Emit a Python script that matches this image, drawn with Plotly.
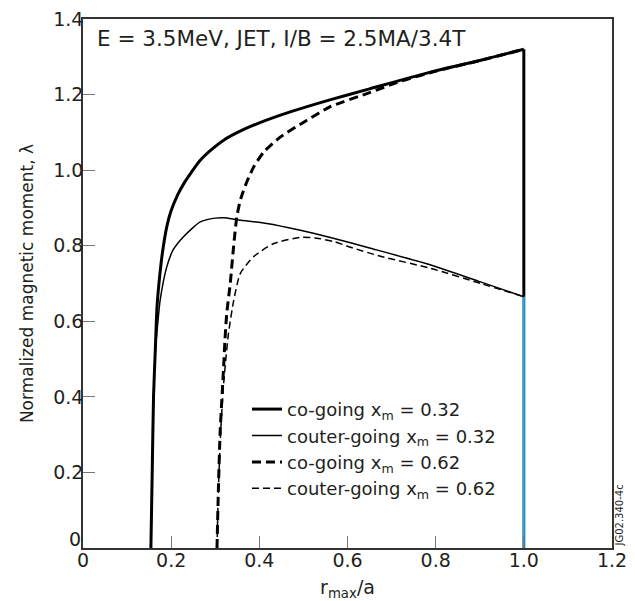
import plotly.graph_objects as go

# co-going x_m = 0.32 (thick solid)
co32_x = [0.154, 0.157, 0.160, 0.164, 0.168, 0.174, 0.180, 0.190, 0.200, 0.215, 0.230, 0.245, 0.265, 0.290, 0.320, 0.360, 0.400, 0.470, 0.560, 0.650, 0.790, 0.900, 1.000]
co32_y = [0.0, 0.2, 0.4, 0.524, 0.64, 0.72, 0.78, 0.85, 0.893, 0.935, 0.967, 0.993, 1.025, 1.053, 1.08, 1.105, 1.125, 1.154, 1.186, 1.215, 1.26, 1.29, 1.32]

# counter-going x_m = 0.32 (thin solid)
ct32_x = [0.154, 0.157, 0.160, 0.164, 0.170, 0.175, 0.190, 0.205, 0.228, 0.266, 0.300, 0.320, 0.350, 0.417, 0.493, 0.561, 0.650, 0.789, 0.900, 1.000]
ct32_y = [0.0, 0.2, 0.4, 0.52, 0.6, 0.656, 0.744, 0.79, 0.824, 0.863, 0.873, 0.874, 0.869, 0.859, 0.841, 0.822, 0.794, 0.749, 0.705, 0.665]

# co-going x_m = 0.62 (thick dashed)
co62_x = [0.304, 0.307, 0.311, 0.319, 0.322, 0.326, 0.334, 0.341, 0.349, 0.358, 0.372, 0.387, 0.410, 0.448, 0.508, 0.561, 0.650, 0.720, 0.810, 0.900, 1.000]
co62_y = [0.0, 0.15, 0.304, 0.48, 0.55, 0.62, 0.70, 0.79, 0.877, 0.925, 0.97, 1.008, 1.048, 1.088, 1.132, 1.168, 1.205, 1.235, 1.265, 1.29, 1.32]

# counter-going x_m = 0.62 (thin dashed)
ct62_x = [0.304, 0.307, 0.312, 0.318, 0.324, 0.330, 0.342, 0.357, 0.387, 0.433, 0.493, 0.530, 0.569, 0.607, 0.675, 0.789, 0.902, 1.000]
ct62_y = [0.0, 0.15, 0.30, 0.42, 0.50, 0.568, 0.656, 0.727, 0.771, 0.806, 0.822, 0.82, 0.811, 0.796, 0.772, 0.74, 0.70, 0.665]

# boundary at r_max/a = 1
drop_x = [1.0, 1.0]
drop_y = [1.32, 0.665]
edge_x = [1.0, 1.0]
edge_y = [0.0, 0.665]

x_ticks = [0, 0.2, 0.4, 0.6, 0.8, 1.0, 1.2]
x_ticktext = ["0", "0.2", "0.4", "0.6", "0.8", "1.0", "1.2"]
y_ticks = [0, 0.2, 0.4, 0.6, 0.8, 1.0, 1.2, 1.4]
y_ticktext = ["", "0.2", "0.4", "0.6", "0.8", "1.0", "1.2", "1.4"]
y_zero_label = "0"

FONT = "DejaVu Sans, Liberation Sans, Arial, sans-serif"
TXT = "#231f20"

fig = go.Figure()
fig.add_trace(go.Scatter(x=edge_x, y=edge_y, mode="lines", line=dict(color="#1b6fa8", width=3), showlegend=False, hoverinfo="skip"))
fig.add_trace(go.Scatter(x=edge_x, y=edge_y, mode="lines", line=dict(color="#38b8e8", width=1.2), showlegend=False, hoverinfo="skip"))
fig.add_trace(go.Scatter(x=drop_x, y=drop_y, mode="lines", line=dict(color="black", width=3), showlegend=False, hoverinfo="skip"))
fig.add_trace(go.Scatter(x=co32_x, y=co32_y, mode="lines", name="co-going x<sub>m</sub> = 0.32",
                         line=dict(color="black", width=3, shape="spline", smoothing=0.6)))
fig.add_trace(go.Scatter(x=ct32_x, y=ct32_y, mode="lines", name="couter-going x<sub>m</sub> = 0.32",
                         line=dict(color="black", width=1.5, shape="spline", smoothing=0.6)))
fig.add_trace(go.Scatter(x=co62_x, y=co62_y, mode="lines", name="co-going x<sub>m</sub> = 0.62",
                         line=dict(color="black", width=3, dash="9px,5px", shape="spline", smoothing=0.6)))
fig.add_trace(go.Scatter(x=ct62_x, y=ct62_y, mode="lines", name="couter-going x<sub>m</sub> = 0.62",
                         line=dict(color="black", width=1.5, dash="7px,4px", shape="spline", smoothing=0.6)))

fig.update_layout(
    width=635, height=601,
    margin=dict(l=83, r=23, t=19, b=53, autoexpand=False),
    paper_bgcolor="white", plot_bgcolor="white",
    font=dict(family=FONT, size=19, color=TXT),
    legend=dict(x=0.31, y=0.297, xanchor="left", yanchor="top",
                bgcolor="rgba(0,0,0,0)", font=dict(size=18, color=TXT),
                tracegroupgap=0, itemwidth=30),
    annotations=[
        dict(text="E = 3.5MeV, JET, I/B = 2.5MA/3.4T", xref="paper", yref="paper",
             x=0.022, y=0.963, xanchor="left", yanchor="middle", showarrow=False,
             font=dict(size=21.5, color=TXT)),
        dict(text="JG02.340-4c", xref="paper", yref="paper", x=1.0, y=0.0,
             xanchor="left", yanchor="bottom", textangle=-90, showarrow=False,
             font=dict(size=10, color=TXT), xshift=0, borderpad=0),
        dict(text=y_zero_label, xref="paper", yref="y", x=0, y=0,
             xanchor="right", yanchor="bottom", showarrow=False, xshift=-1, yshift=-3,
             borderpad=0, font=dict(size=19, color=TXT)),
    ],
)
fig.update_xaxes(range=[0, 1.2], tickvals=x_ticks, ticktext=x_ticktext,
                 ticks="inside", ticklen=12, tickcolor="#777777", tickwidth=1,
                 showline=True, linecolor="#333333", linewidth=1.5, mirror=True,
                 showgrid=False, zeroline=False, automargin=False, ticklabelstandoff=-6,
                 title=dict(text="r<sub>max</sub>/a", font=dict(size=19)))
fig.update_yaxes(range=[0, 1.4], tickvals=y_ticks, ticktext=y_ticktext,
                 ticks="inside", ticklen=12, tickcolor="#777777", tickwidth=1,
                 showline=True, linecolor="#333333", linewidth=1.5, mirror=True,
                 showgrid=False, zeroline=False, automargin=False, ticklabelstandoff=-6,
                 title=dict(text="Normalized magnetic moment, λ", font=dict(size=17)))

fig.write_html("out.html", config={"displayModeBar": False},
               post_script="document.body.style.margin='0';")
